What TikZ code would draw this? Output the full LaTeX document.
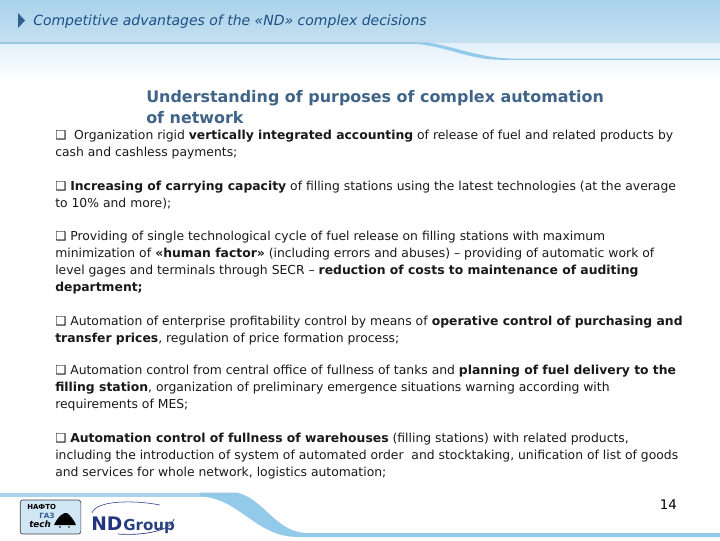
\documentclass[tikz,border=0pt]{standalone}
\usepackage{fontspec}
\setmainfont{DejaVu Sans}
\definecolor{headblue}{HTML}{A9D2EB}
\definecolor{headmid}{HTML}{C6E0F0}
\definecolor{headlow}{HTML}{E2F0FA}
\definecolor{ruleblue}{HTML}{9CC7E2}
\definecolor{swoosh}{HTML}{93CAEA}
\definecolor{titleblue}{HTML}{3F6487}
\definecolor{headtext}{HTML}{1B4F86}
\definecolor{arrowblue}{HTML}{2F5F8F}
\definecolor{navy}{HTML}{23357F}
\tikzset{
 x=0.75pt,y=-0.75pt,
 bodyline/.style={anchor=base west,inner sep=0pt,font=\fontsize{9.28}{11}\selectfont,text=black!90},
 titleline/.style={anchor=base west,inner sep=0pt,font=\fontsize{11.95}{15}\selectfont\bfseries,text=titleblue},
}
\begin{document}
\begin{tikzpicture}
\useasboundingbox (0,0) rectangle (720,540);
\fill[white] (0,0) rectangle (720,540);
\shade[top color=headblue,bottom color=headmid] (0,0) rectangle (720,43);
\shade[top color=headlow,bottom color=white] (0,43) rectangle (720,80);
% header rule with swoosh
\fill[ruleblue] (0,42.4) -- (415,42.4) -- (415,43.8) -- (0,43.8) -- cycle;
\fill[swoosh] (415,42.4) -- (428,42.4) .. controls (455,47) and (480,57.5) .. (510,58.5) -- (720,58.5) -- (720,59.8) -- (500,59.8) .. controls (470,59.8) and (445,46) .. (415,43.8) -- cycle;
\fill[arrowblue] (18,13) -- (25,20.5) -- (18,28) -- cycle;
\node[anchor=base west,inner sep=0pt,font=\fontsize{10.5}{12}\selectfont\itshape,text=headtext] (head) at (33,25) {Competitive advantages of the «ND» complex decisions};
\node[titleline] (t1) at (146,102) {Understanding of purposes of complex automation};
\node[titleline] (t2) at (146,123.5) {of network};
\node[bodyline] (a1) at (55,139) {\textbf{❑}\ \ Organization rigid \textbf{vertically integrated accounting} of release of fuel and related products by};
\node[bodyline] (a2) at (55,156) {cash and cashless payments;};
\node[bodyline] (b1) at (55,190) {\textbf{❑} \textbf{Increasing of carrying capacity} of filling stations using the latest technologies (at the average};
\node[bodyline] (b2) at (55,207) {to 10\% and more);};
\node[bodyline] (c1) at (55,240) {\textbf{❑} Providing of single technological cycle of fuel release on filling stations with maximum};
\node[bodyline] (c2) at (55,257) {minimization of \textbf{«human factor»} (including errors and abuses) – providing of automatic work of};
\node[bodyline] (c3) at (55,274) {level gages and terminals through SECR – \textbf{reduction of costs to maintenance of auditing}};
\node[bodyline] (c4) at (55,291) {\textbf{department;}};
\node[bodyline] (d1) at (55,325) {\textbf{❑} Automation of enterprise profitability control by means of \textbf{operative control of purchasing and}};
\node[bodyline] (d2) at (55,342) {\textbf{transfer prices}, regulation of price formation process;};
\node[bodyline] (e1) at (55,374) {\textbf{❑} Automation control from central office of fullness of tanks and \textbf{planning of fuel delivery to the}};
\node[bodyline] (e2) at (55,391) {\textbf{filling station}, organization of preliminary emergence situations warning according with};
\node[bodyline] (e3) at (55,408) {requirements of MES;};
\node[bodyline] (f1) at (55,442) {\textbf{❑} \textbf{Automation control of fullness of warehouses} (filling stations) with related products,};
\node[bodyline] (f2) at (55,459) {including the introduction of system of automated order\ \ and stocktaking, unification of list of goods};
\node[bodyline] (f3) at (55,476) {and services for whole network, logistics automation;};
\node[anchor=base east,inner sep=0pt,font=\fontsize{10}{12}\selectfont,text=black] (num) at (677,509) {14};
% bottom band
\fill[headblue] (0,492.5) -- (205,492.5) -- (205,496.5) -- (0,496.5) -- cycle;
\fill[swoosh] (200,492.5) -- (236,492.5) .. controls (262,497) and (275,531) .. (305,533) -- (720,533) -- (720,537) -- (298,537) .. controls (255,537) and (240,498) .. (200,496.5) -- cycle;
% logos
\node[draw=black!75,rounded corners=2pt,fill=headblue!55,minimum width=45.5pt,minimum height=25.5pt,inner sep=0pt,line width=0.5pt] (logo) at (50.5,517) {};
\node[anchor=base west,inner sep=0pt,font=\fontsize{5.2}{6}\selectfont\bfseries,text=black] (l1) at (27,509) {НАФТО};
\node[anchor=base west,inner sep=0pt,font=\fontsize{5.4}{6}\selectfont\bfseries,text=arrowblue] (l2) at (39,518) {ГАЗ};
\node[anchor=base west,inner sep=0pt,font=\fontsize{6.6}{7}\selectfont\bfseries\itshape,text=black] (l3) at (29,527) {tech};
\fill[black] (54,525) .. controls (58,516) and (64,512) .. (67,513) .. controls (70,515) and (74,520) .. (76,525) -- cycle;
\fill[black] (60,527) circle (0.9) (69,527) circle (0.9);
\draw[navy,line width=0.4pt] (92,513) .. controls (96,500) and (135,500) .. (160,505);
\draw[navy,line width=0.5pt] (118,534) .. controls (145,536) and (172,530) .. (174,519);
\node[anchor=base west,inner sep=0pt,font=\fontsize{14}{15}\selectfont\bfseries,text=navy] (nd) at (91,530.5) {ND};
\node[anchor=base west,inner sep=0pt,font=\fontsize{11.3}{15}\selectfont\bfseries,text=navy!75!titleblue] (gr) at (123,530) {Group};
\end{tikzpicture}
\end{document}
